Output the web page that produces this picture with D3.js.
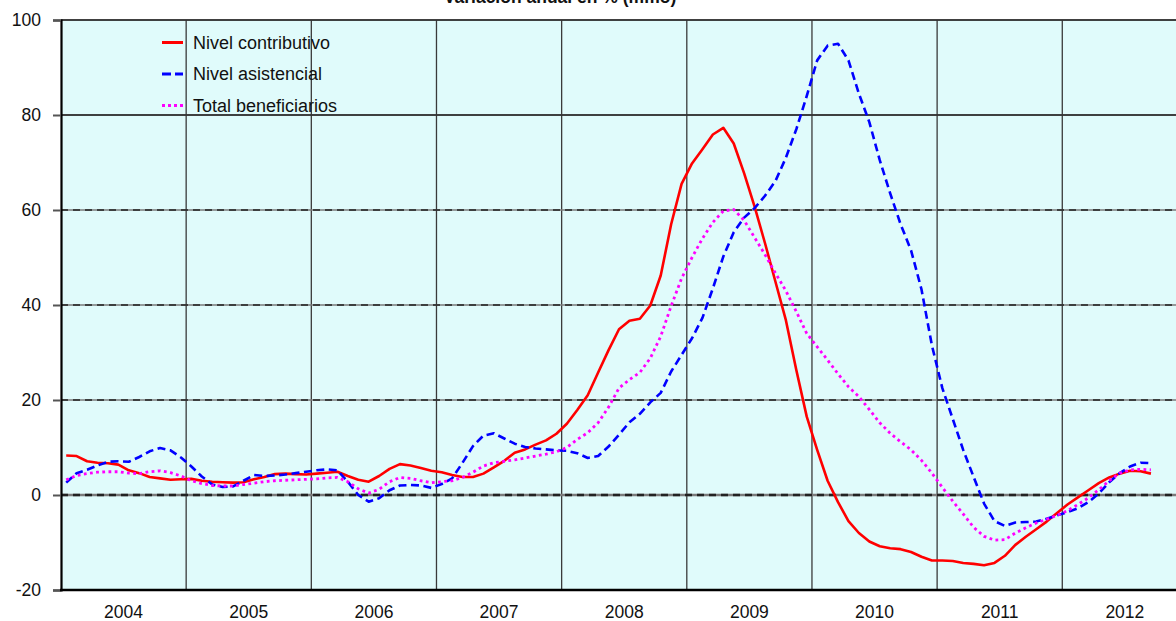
<!DOCTYPE html>
<html>
<head>
<meta charset="utf-8">
<script src="https://cdn.jsdelivr.net/npm/d3@7"></script>
<style>
  html, body { margin: 0; padding: 0; background: #ffffff; }
  svg { display: block; font-family: "Liberation Sans", Arial, sans-serif; }
</style>
</head>
<body>
<svg id="chart" width="1176" height="621"></svg>
<script>
// ---- Data (monthly, Jan 2004 – Sep 2012) ----
const title = "Variación anual en % (mmo)";
const yearLabels = ["2004","2005","2006","2007","2008","2009","2010","2011","2012"];
const yTicks = [-20, 0, 20, 40, 60, 80, 100];
const seriesNames = ["Nivel contributivo", "Nivel asistencial", "Total beneficiarios"];

const contributivo = [
  8.3, 8.2, 7.1, 6.8, 6.7, 6.4, 5.2, 4.6, 3.8, 3.5, 3.2, 3.3,
  3.4, 3.0, 2.8, 2.7, 2.6, 2.7, 3.3, 3.8, 4.4, 4.5, 4.4, 4.3,
  4.5, 4.7, 4.9, 4.0, 3.2, 2.8, 4.0, 5.5, 6.5, 6.2, 5.7, 5.1,
  4.8, 4.2, 3.8, 3.8, 4.5, 5.8, 7.2, 8.9, 9.6, 10.6, 11.5, 12.9,
  15.0, 17.9, 21.0, 25.8, 30.5, 34.9, 36.7, 37.1, 39.9, 46.2, 57.0, 65.5,
  69.8, 72.8, 75.9, 77.3, 74.0, 67.7, 60.7, 53.0, 44.9, 36.8, 26.3, 16.5,
  9.5, 3.0, -1.5, -5.5, -8.0, -9.8, -10.8, -11.2, -11.4, -12.0, -13.0, -13.8,
  -13.8, -13.9, -14.3, -14.5, -14.8, -14.3, -12.8, -10.5, -8.8, -7.2, -5.6, -3.8,
  -2.0, -0.5, 1.0, 2.5, 3.7, 4.5, 5.1, 5.0, 4.5
];
const asistencial = [
  2.6, 4.6, 5.3, 6.2, 7.0, 7.1, 7.0, 8.0, 9.2, 9.9, 9.4, 7.9,
  6.0, 3.9, 2.2, 1.7, 1.8, 3.0, 4.2, 4.0, 4.1, 4.3, 4.6, 4.9,
  5.2, 5.4, 5.2, 2.8, 0.0, -1.4, -0.7, 1.0, 2.0, 2.1, 2.0, 1.5,
  2.3, 3.5, 6.8, 10.3, 12.5, 13.0, 11.9, 10.8, 10.1, 9.8, 9.6, 9.4,
  9.3, 8.8, 7.8, 8.2, 10.2, 12.7, 15.3, 17.1, 19.5, 21.5, 26.0, 29.5,
  33.0, 37.3, 43.5, 50.2, 55.3, 58.4, 60.4, 63.0, 66.1, 71.0, 77.0, 84.0,
  91.5, 94.6, 95.0, 91.5, 84.5, 78.5, 70.5, 63.5, 57.0, 51.5, 43.3, 31.5,
  22.5, 16.0, 9.5, 3.8, -1.8, -5.5, -6.5, -5.8, -5.7, -5.6, -5.0, -4.3,
  -3.6, -2.8, -1.5, 0.3, 2.7, 4.6, 6.0, 6.8, 6.7
];
const totalBenef = [
  3.2, 4.1, 4.5, 4.8, 4.9, 4.9, 4.6, 4.5, 4.9, 5.1, 4.7, 4.0,
  3.0, 2.4, 2.0, 1.9, 1.9, 2.2, 2.5, 2.8, 3.0, 3.1, 3.2, 3.3,
  3.4, 3.6, 3.7, 2.8, 1.3, 0.4, 1.2, 2.8, 3.7, 3.5, 3.0, 2.6,
  2.8, 3.0, 3.7, 4.8, 6.1, 6.8, 7.1, 7.4, 7.8, 8.2, 8.6, 9.1,
  10.0, 11.7, 13.1, 15.2, 18.5, 22.5, 24.3, 25.8, 28.8, 33.4, 39.8, 45.6,
  50.0, 54.0, 57.4, 59.8, 60.1, 57.8, 54.2, 50.6, 46.7, 43.0, 38.6, 34.0,
  31.2, 28.4, 25.5, 22.8, 20.7, 18.0, 15.2, 13.0, 11.2, 9.5, 7.3, 4.6,
  1.6, -1.3, -4.0, -6.8, -8.7, -9.5, -9.4, -8.0, -6.9, -5.9, -5.1, -4.3,
  -3.3, -2.0, -0.6, 1.1, 3.0, 4.6, 5.3, 5.4, 5.3
];

const seriesColors = ["#FF0000", "#0000FF", "#FF00FF"];
const seriesDash = [null, "8,4.5", "2.8,3.4"];
const seriesData = [contributivo, asistencial, totalBenef];

// ---- Layout ----
const svg = d3.select("#chart");
const plotLeft = 61, plotTop = 20, plotBottom = 590;
const monthsTotal = yearLabels.length * 12;
const monthWidth = 10.43;
const plotRight = plotLeft + monthsTotal * monthWidth;

const x = d3.scaleLinear().domain([0, monthsTotal]).range([plotLeft, plotRight]);
const y = d3.scaleLinear().domain([-20, 100]).range([plotBottom, plotTop]);

// background
svg.append("rect")
  .attr("x", plotLeft).attr("y", plotTop)
  .attr("width", plotRight - plotLeft).attr("height", plotBottom - plotTop)
  .attr("fill", "#E0FBFB");

// vertical grid (year boundaries)
const yearBounds = d3.range(1, yearLabels.length).map(k => k * 12);
svg.append("g").selectAll("line").data(yearBounds).join("line")
  .attr("x1", d => x(d)).attr("x2", d => x(d))
  .attr("y1", plotTop).attr("y2", plotBottom)
  .attr("stroke", "#3a3a3a").attr("stroke-width", 1.3);

// horizontal grid
const hg = svg.append("g");
yTicks.filter(v => v > -20).forEach(v => {
  hg.append("line")
    .attr("x1", plotLeft).attr("x2", plotRight)
    .attr("y1", y(v)).attr("y2", y(v))
    .attr("stroke", "#7a7a7a").attr("stroke-width", v === 0 ? 2.4 : 1.6);
  hg.append("line")
    .attr("x1", plotLeft).attr("x2", plotRight)
    .attr("y1", y(v)).attr("y2", y(v))
    .attr("stroke", "#222").attr("stroke-width", v === 0 ? 2.4 : 1.6)
    .attr("stroke-dasharray", v >= 80 ? null : "7,5");
});

// y axis
const yAxis = d3.axisLeft(y).tickValues(yTicks).tickSize(8).tickPadding(12).tickFormat(d => String(d));
const yg = svg.append("g").attr("transform", `translate(${plotLeft},0)`).call(yAxis);
yg.select(".domain").attr("stroke", "#000").attr("stroke-width", 2.2);
yg.selectAll(".tick line").attr("stroke", "#555").attr("stroke-width", 2);
yg.selectAll(".tick text").attr("font-size", 17.5).attr("fill", "#111")
  .attr("font-family", "Liberation Sans, Arial, sans-serif");

// x axis: labels centered in each year
const xBand = d3.scaleBand().domain(yearLabels).range([plotLeft, plotRight]);
const xAxis = d3.axisBottom(xBand).tickSize(0).tickPadding(16);
const xg = svg.append("g").attr("transform", `translate(0,${plotBottom})`).call(xAxis);
xg.select(".domain").remove();
xg.selectAll(".tick text").attr("font-size", 17.5).attr("fill", "#111")
  .attr("font-family", "Liberation Sans, Arial, sans-serif");
svg.append("line")
  .attr("x1", plotLeft - 1).attr("x2", plotRight)
  .attr("y1", plotBottom).attr("y2", plotBottom)
  .attr("stroke", "#000").attr("stroke-width", 2.6);

// series lines
const line = d3.line().x((d, i) => x(i + 0.5)).y(d => y(d));
seriesData.forEach((arr, k) => {
  svg.append("path")
    .datum(arr)
    .attr("fill", "none")
    .attr("stroke", seriesColors[k])
    .attr("stroke-width", k === 2 ? 2.8 : 2.6)
    .attr("stroke-linejoin", "round")
    .attr("stroke-dasharray", seriesDash[k])
    .attr("d", line);
});

// legend
const legY = [42.5, 74, 105.5];
const leg = svg.append("g");
seriesNames.forEach((name, k) => {
  leg.append("line")
    .attr("x1", 162).attr("x2", 183)
    .attr("y1", legY[k]).attr("y2", legY[k])
    .attr("stroke", seriesColors[k]).attr("stroke-width", 3)
    .attr("stroke-dasharray", k === 1 ? "9,4" : (k === 2 ? "3,3" : null));
  leg.append("text")
    .attr("x", 193).attr("y", legY[k])
    .attr("dy", "0.36em")
    .attr("font-size", 18).attr("fill", "#111")
    .text(name);
});

// title (partially cut off at top, as in the reference)
svg.append("text")
  .attr("x", 560).attr("y", 3)
  .attr("text-anchor", "middle")
  .attr("font-size", 17.5).attr("font-weight", "bold").attr("fill", "#111")
  .text(title);
</script>
</body>
</html>
